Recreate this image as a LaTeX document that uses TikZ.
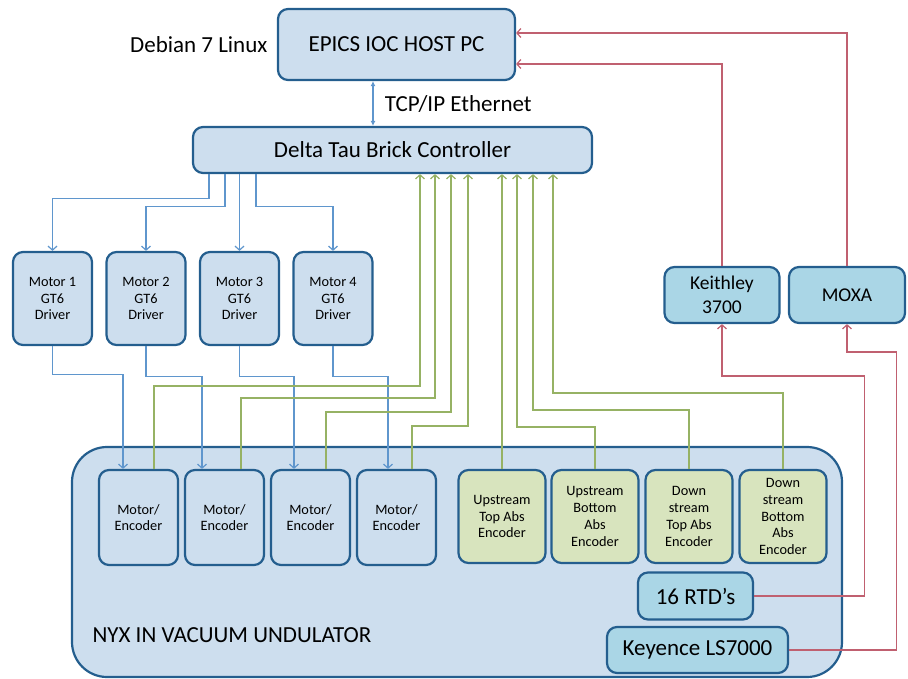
\documentclass[tikz,border=0pt]{standalone}
\usepackage{fontspec}
\setmainfont{Carlito}
\usepackage{xcolor}
\usepackage{tikz}
\usetikzlibrary{arrows.meta}
\usetikzlibrary{positioning}

\definecolor{boxblue}{RGB}{205,222,238}
\definecolor{boxcyan}{RGB}{170,214,230}
\definecolor{boxgreen}{RGB}{216,228,190}
\definecolor{edgeblue}{RGB}{36,94,142}
\definecolor{wireblue}{RGB}{95,150,205}
\definecolor{wiregreen}{RGB}{150,178,100}
\definecolor{wirered}{RGB}{192,96,112}

\begin{document}
\begin{tikzpicture}[x=1pt,y=-1pt]
% 1 = 1px of the reference, y grows downwards
    \def\DRVY{298.5} % drivers row
    \def\ENCY{517.5} % encoders row
    \def\CYANY{295}  % keithley and moxa row

    \tikzset{
      unit/.style={draw=edgeblue, line width=2.2pt, rounded corners=10pt,
        fill=boxblue, align=center, inner sep=1pt},
      bigtext/.style={font=\fontsize{23}{27}\selectfont},
      smalltext/.style={font=\fontsize{14.3}{16.8}\selectfont},
      drvbox/.style={unit, smalltext, minimum width=79pt, minimum height=93pt},
      encbox/.style={unit, smalltext, minimum width=79pt, minimum height=95pt},
      absbox/.style={unit, smalltext, fill=boxgreen, minimum width=87pt,
        minimum height=93pt},
      cyanbox/.style={unit, fill=boxcyan},
      wire/.style={line width=1.2pt, -{Straight Barb[length=4pt,width=9pt]}},
      bluewire/.style={wire, draw=wireblue},
      greenwire/.style={wire, draw=wiregreen},
      redwire/.style={wire, draw=wirered},
    }

    \useasboundingbox (0,0) rectangle (908,678);

    % UNDULATOR
    \node[unit, rounded corners=35pt, minimum width=770pt, minimum height=230pt]
        (nyx) at (457,562) {};
    \node[bigtext, anchor=west] (nyxlabel) at (89,635) {NYX IN VACUUM UNDULATOR};

    % HOST AND CONTROLLER
    \node[unit, bigtext, minimum width=237pt, minimum height=71pt]
        (host) at (396.5,44.5) {EPICS IOC HOST PC};
    \node[bigtext, left=6pt of host] (debian) {Debian 7 Linux};
    \node[unit, bigtext, minimum width=399pt, minimum height=46pt]
        (ctrl) at (392.5,150) {Delta Tau Brick Controller};

    % DRIVERS
    \foreach \i/\x in {1/52.5, 2/146, 3/239.5, 4/333}
        \node[drvbox] (drv\i) at (\x,\DRVY) {Motor \i\\GT6\\Driver};

    % MOTOR/ENCODERS
    \foreach \i/\x in {1/138.5, 2/224.5, 3/310.5, 4/396.5}
        \node[encbox] (enc\i) at (\x,\ENCY) {Motor/\\Encoder};

    % ABSOLUTE ENCODERS
    \node[absbox] (abs1) at (502,516.5) {Upstream\\Top Abs\\Encoder};
    \node[absbox] (abs2) at (595,516.5) {Upstream\\Bottom\\Abs\\Encoder};
    \node[absbox] (abs3) at (689,516.5) {Down\\stream\\Top Abs\\Encoder};
    \node[absbox] (abs4) at (783,516.5) {Down\\stream\\Bottom\\Abs\\Encoder};

    % SENSORS
    \node[cyanbox, bigtext, minimum width=115pt, minimum height=47pt]
        (rtd) at (695.5,596) {16 RTD’s};
    \node[cyanbox, bigtext, minimum width=181pt, minimum height=46pt]
        (keyence) at (697.5,650) {Keyence LS7000};
    \node[cyanbox, font=\fontsize{19.5}{24}\selectfont, minimum width=115pt,
        minimum height=56pt] (keith) at (722,\CYANY) {Keithley\\3700};
    \node[cyanbox, font=\fontsize{19.5}{24}\selectfont, minimum width=116pt,
        minimum height=56pt] (moxa) at (847,\CYANY) {MOXA};

    % ETHERNET LINK
    \draw[line width=1.2pt, draw=wireblue,
            {Latex[length=5pt,width=5pt]}-{Latex[length=5pt,width=5pt]}]
        ([xshift=-23.5pt]host.south) --
        node[bigtext, right=8pt] (tcpip) {TCP/IP Ethernet}
        ([xshift=-19.5pt]ctrl.north);

    % CONTROLLER TO DRIVERS
    \draw[bluewire] ([xshift=-183.5pt]ctrl.south) -- ++(0,24) -| (drv1.north);
    \draw[bluewire] ([xshift=-167.5pt]ctrl.south) -- ++(0,32) -| (drv2.north);
    \draw[bluewire] (drv3.north |- ctrl.south) -- (drv3.north);
    \draw[bluewire] ([xshift=-136.5pt]ctrl.south) -- ++(0,32) -| (drv4.north);

    % DRIVERS TO MOTORS
    \foreach \i/\dn/\dx in {1/28/-15.5, 2/30/-22.5, 3/30/-16.5, 4/30/-8.5}
        \draw[bluewire] (drv\i.south) -- ++(0,\dn) -| ([xshift=\dx pt]enc\i.north);

    % ENCODER FEEDBACK
    \foreach \i/\dx/\up/\cx in {1/15.5/83/27.5, 2/16.5/71/42.5,
                                3/15.5/57/58.5, 4/15.5/43/75.5}
        \draw[greenwire] ([xshift=\dx pt]enc\i.north) -- ++(0,-\up)
            -| ([xshift=\cx pt]ctrl.south);
    \draw[greenwire] (abs1.north) -- (abs1.north |- ctrl.south);
    \foreach \i/\up/\cx in {2/42/124.5, 3/59/140.5, 4/76/160.5}
        \draw[greenwire] (abs\i.north) -- ++(0,-\up) -| ([xshift=\cx pt]ctrl.south);

    % SENSOR READOUT
    \draw[redwire] (rtd.east) -- ++(110,0) -- ++(0,-220) -| (keith.south);
    \draw[redwire] (keyence.east) -- ++(107,0) -- ++(0,-298) -| (moxa.south);
    \draw[redwire] (keith.north) |- ([yshift=-19.5pt]host.east);
    \draw[redwire] (moxa.north) |- ([yshift=11.5pt]host.east);

\end{tikzpicture}
\end{document}
